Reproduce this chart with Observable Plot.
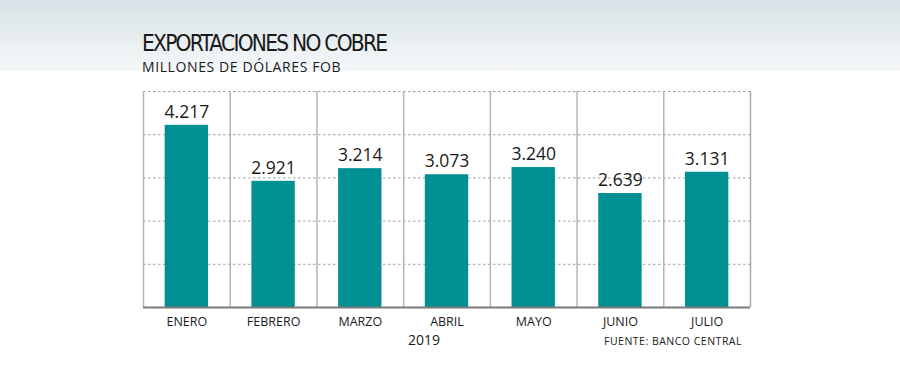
<!DOCTYPE html>
<html>
<head>
<meta charset="utf-8">
<script src="https://cdn.jsdelivr.net/npm/d3@7"></script>
<script src="https://cdn.jsdelivr.net/npm/@observablehq/plot@0.6"></script>
<style>
  html, body { margin: 0; padding: 0; background: #fff; }
  #wrap { position: relative; width: 900px; height: 384px; overflow: hidden; background: #fff; }
  #band { position: absolute; left: 0; top: 0; width: 900px; height: 71px;
          background: linear-gradient(#d7e2e6, #f6f8f9); }
  .t { position: absolute; white-space: nowrap; color: #1a1a1a; }
  #title { left: 142px; top: 32px; line-height: 22px; font-family: "Liberation Sans Narrow", "DejaVu Sans Condensed", sans-serif; font-size: 22.5px; letter-spacing: -1.75px; }
  #sub { left: 142px; top: 59px; line-height: 15px; font-family: "Open Sans", sans-serif; font-size: 14px; letter-spacing: 0.6px; }
  #year { left: 408px; top: 330px; font-family: "Open Sans", sans-serif; font-size: 14px; }
  #src { left: 604px; top: 334px; font-family: "Open Sans", sans-serif; font-size: 10.5px; letter-spacing: 0.5px; }
  #chart { position: absolute; left: 0; top: 0; }
</style>
</head>
<body>
<div id="wrap">
  <div id="band"></div>
  <div id="chart"></div>
  <div class="t" id="title">EXPORTACIONES NO COBRE</div>
  <div class="t" id="sub">MILLONES DE DÓLARES FOB</div>
  <div class="t" id="year">2019</div>
  <div class="t" id="src">FUENTE: BANCO CENTRAL</div>
</div>
<script>
const months = ["ENERO", "FEBRERO", "MARZO", "ABRIL", "MAYO", "JUNIO", "JULIO"];
const values = [4217, 2921, 3214, 3073, 3240, 2639, 3131];
const gridTicks = [1000, 2000, 3000, 4000, 5000];

const data = months.map((m, i) => ({month: m, value: values[i]}));
const W = 900, H = 384, ML = 143, MR = 150, MT = 91, MB = 77;
const step = (W - ML - MR) / months.length;
const fmt = v => d3.format(",")(v).replace(/,/g, ".");

const chart = Plot.plot({
  width: W, height: H,
  marginLeft: ML, marginRight: MR, marginTop: MT, marginBottom: MB,
  style: {background: "transparent", fontFamily: "Open Sans, sans-serif"},
  x: {domain: months, paddingInner: 0.5, paddingOuter: 0.25, round: false, label: null},
  y: {domain: [0, 5000], label: null},
  marks: [
    Plot.ruleY(gridTicks, {stroke: "#a0a0a0", strokeDasharray: "2.5,2.5", strokeWidth: 1}),
    Plot.ruleX(months, {x: d => d, dx: -step / 2, y1: 0, y2: 5000, stroke: "#b4b4b4", strokeWidth: 1.5}),
    Plot.ruleX([months[months.length - 1]], {x: d => d, dx: step / 2, y1: 0, y2: 5000, stroke: "#a8a8a8", strokeWidth: 1.5}),
    Plot.barY(data, {x: "month", y: "value", fill: "#008f93"}),
    Plot.ruleY([0], {stroke: "#7a7a7a", strokeWidth: 2}),
    Plot.text(data, {x: "month", y: "value", text: d => fmt(d.value), dy: -13, fontSize: 17.5, fill: "#1a1a1a"}),
    Plot.axisX({tickSize: 0, tickPadding: 10, fontSize: 12.5, fill: "#1a1a1a", label: null}),
    Plot.axisY({ticks: [], label: null})
  ]
});
document.getElementById("chart").appendChild(chart);
</script>
</body>
</html>
